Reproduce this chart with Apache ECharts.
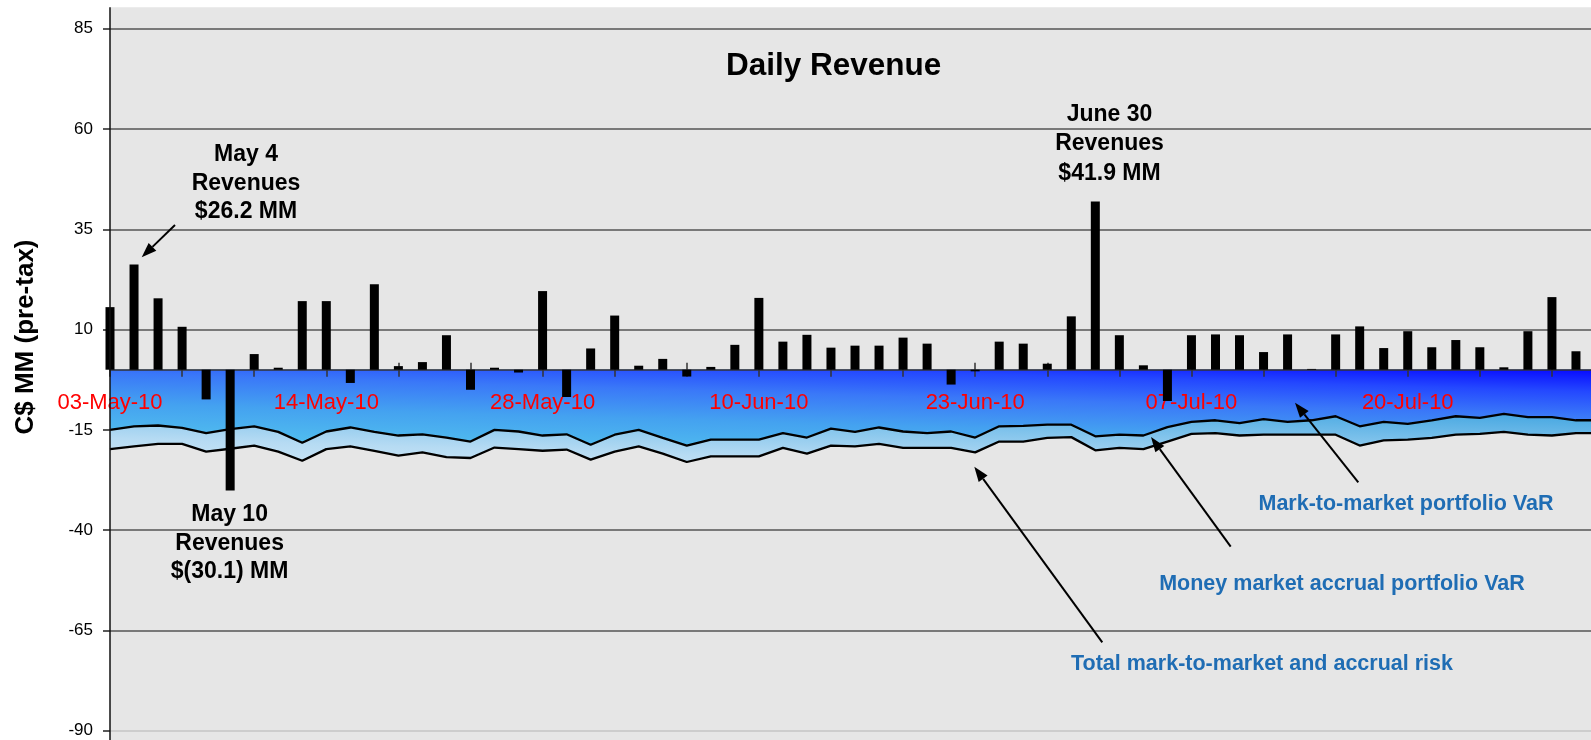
<!DOCTYPE html>
<html>
<head>
<meta charset="utf-8">
<title>Daily Revenue</title>
<script src="https://cdn.jsdelivr.net/npm/echarts@6/dist/echarts.min.js"></script>
<style>
  html, body { margin: 0; padding: 0; background: #fff; }
  #chart { width: 1591px; height: 740px; }
</style>
</head>
<body>
<div id="chart"></div>
<script>
// Business days, 03-May-10 .. 30-Jul-10 (Canadian holidays skipped)
const dates = [
  '03-May-10', '04-May-10', '05-May-10', '06-May-10', '07-May-10',
  '10-May-10', '11-May-10', '12-May-10', '13-May-10', '14-May-10',
  '17-May-10', '18-May-10', '19-May-10', '20-May-10', '21-May-10',
  '25-May-10', '26-May-10', '27-May-10', '28-May-10', '31-May-10',
  '01-Jun-10', '02-Jun-10', '03-Jun-10', '04-Jun-10', '07-Jun-10',
  '08-Jun-10', '09-Jun-10', '10-Jun-10', '11-Jun-10', '14-Jun-10',
  '15-Jun-10', '16-Jun-10', '17-Jun-10', '18-Jun-10', '21-Jun-10',
  '22-Jun-10', '23-Jun-10', '24-Jun-10', '25-Jun-10', '28-Jun-10',
  '29-Jun-10', '30-Jun-10', '02-Jul-10', '05-Jul-10', '06-Jul-10',
  '07-Jul-10', '08-Jul-10', '09-Jul-10', '12-Jul-10', '13-Jul-10',
  '14-Jul-10', '15-Jul-10', '16-Jul-10', '19-Jul-10', '20-Jul-10',
  '21-Jul-10', '22-Jul-10', '23-Jul-10', '26-Jul-10', '27-Jul-10',
  '28-Jul-10', '29-Jul-10', '30-Jul-10'
];

// Daily revenue, C$ MM (last day falls outside the picture)
const revenue = [
  15.6, 26.2, 17.8, 10.7, -7.4, -30.1, 3.9, 0.5, 17.1, 17.1,
  -3.3, 21.3, 0.9, 1.9, 8.6, -5.0, 0.5, -0.7, 19.6, -6.8,
  5.3, 13.5, 1.0, 2.7, -1.7, 0.7, 6.2, 17.9, 7.0, 8.7,
  5.5, 6.0, 6.0, 8.0, 6.5, -3.7, -0.4, 7.0, 6.5, 1.5,
  13.3, 41.9, 8.6, 1.1, -7.8, 8.6, 8.8, 8.6, 4.4, 8.8,
  0.2, 8.8, 10.8, 5.4, 9.6, 5.6, 7.4, 5.6, 0.6, 9.6,
  18.1, 4.6, null
];

// Mark-to-market portfolio VaR
const mtmVar = [
  -15.0, -14.1, -13.9, -14.5, -15.8, -14.8, -14.1, -15.5, -18.2, -15.4,
  -14.4, -15.5, -16.4, -16.1, -16.9, -17.9, -15.0, -15.4, -16.4, -16.1,
  -18.7, -16.2, -15.0, -17.0, -18.9, -17.4, -17.4, -17.4, -15.8, -16.9,
  -14.7, -15.5, -14.4, -15.4, -15.8, -15.4, -16.9, -14.1, -14.0, -13.7,
  -13.7, -16.6, -16.2, -16.4, -14.3, -13.0, -12.6, -13.3, -12.3, -13.0,
  -12.6, -11.6, -14.1, -13.0, -13.5, -12.6, -11.6, -12.0, -11.0, -11.8,
  -11.8, -12.6, -12.6
];

// Total mark-to-market and accrual risk
const totalRisk = [
  -19.8, -19.1, -18.5, -18.5, -20.4, -19.7, -18.9, -20.4, -22.7, -19.8,
  -19.1, -20.2, -21.4, -20.6, -21.8, -22.0, -19.4, -19.8, -20.2, -19.9,
  -22.4, -20.4, -19.1, -20.9, -23.0, -21.6, -21.6, -21.6, -19.5, -20.9,
  -18.9, -19.1, -18.5, -19.5, -19.5, -19.5, -20.6, -17.9, -17.9, -17.0,
  -16.8, -20.1, -19.5, -19.8, -17.9, -16.0, -15.8, -16.4, -16.2, -16.2,
  -16.2, -16.2, -18.9, -17.6, -17.4, -17.0, -16.2, -16.0, -15.5, -16.2,
  -16.4, -15.8, -15.8
];

const FONT = '"Liberation Sans", Arial, sans-serif';
const BLUE_TEXT = '#1f6db4';

// grid geometry: value axis -90..85 spans 28.7 .. 730.8 px
const GRID_TOP = 28.7, GRID_BOTTOM_PX = 730.8, Y_MIN = -90, Y_MAX = 85;
const zeroPx = GRID_TOP + (Y_MAX - 0) * (GRID_BOTTOM_PX - GRID_TOP) / (Y_MAX - Y_MIN);

// arrow from (x1,y1) pointing to (x2,y2)
function arrow(x1, y1, x2, y2) {
  const len = 15, half = 5.5;
  const dx = x2 - x1, dy = y2 - y1;
  const d = Math.sqrt(dx * dx + dy * dy);
  const ux = dx / d, uy = dy / d;
  const bx = x2 - ux * len, by = y2 - uy * len;
  return [
    {
      type: 'line', z: 20, silent: true,
      shape: { x1: x1, y1: y1, x2: bx, y2: by },
      style: { stroke: '#000', lineWidth: 2 }
    },
    {
      type: 'polygon', z: 20, silent: true,
      shape: { points: [[x2, y2], [bx - uy * half, by + ux * half], [bx + uy * half, by - ux * half]] },
      style: { fill: '#000' }
    }
  ];
}

function note(text, x, y, size, color, lineHeight) {
  return {
    type: 'text', z: 20, silent: true, x: x, y: y,
    style: {
      text: text, fill: color, align: 'center', verticalAlign: 'middle',
      font: 'bold ' + size + 'px ' + FONT, lineHeight: lineHeight || size
    }
  };
}

const chart = echarts.init(document.getElementById('chart'));

const option = {
  animation: false,
  backgroundColor: '#fff',
  title: {
    text: 'Daily Revenue',
    left: 721,
    top: 45,
    textStyle: { fontFamily: FONT, fontSize: 31.5, fontWeight: 'bold', color: '#000' }
  },
  grid: {
    left: 110,
    right: -9,
    top: GRID_TOP,
    bottom: 740 - GRID_BOTTOM_PX,
    outerBoundsMode: 'none'
  },
  xAxis: [
    {
      // date axis drawn on the zero line (ticks point down, labels below)
      type: 'category',
      data: dates,
      boundaryGap: false,
      position: 'bottom',
      offset: -(GRID_BOTTOM_PX - zeroPx),
      z: 2,
      axisLine: { show: true, onZero: false, lineStyle: { color: '#333', width: 1.5 } },
      axisTick: { show: true, interval: 2, length: 7, lineStyle: { color: '#333', width: 1.5 } },
      axisLabel: {
        show: true,
        interval: 8,
        margin: 22,
        color: '#f00',
        fontFamily: FONT,
        fontSize: 22,
        hideOverlap: false
      },
      splitLine: { show: false }
    },
    {
      // upper half of the crossing ticks
      type: 'category',
      data: dates,
      boundaryGap: false,
      position: 'top',
      offset: -(zeroPx - GRID_TOP),
      z: 2,
      axisLine: { show: false, onZero: false },
      axisTick: { show: true, interval: 2, length: 7, lineStyle: { color: '#333', width: 1.5 } },
      axisLabel: { show: false },
      splitLine: { show: false }
    }
  ],
  yAxis: {
    type: 'value',
    min: Y_MIN,
    max: Y_MAX,
    interval: 25,
    z: 0,
    axisLine: { show: false },
    axisTick: { show: true, length: 7, lineStyle: { color: '#222', width: 1.5 } },
    axisLabel: { margin: 17, color: '#000', fontFamily: FONT, fontSize: 17 },
    splitLine: {
      show: true,
      lineStyle: { color: ['#c4c4c4', '#555', '#555', '#555', '#555', '#555', '#555', '#555'], width: 1.5 }
    }
  },
  series: [
    {
      name: 'Total mark-to-market and accrual risk',
      type: 'line',
      data: totalRisk,
      z: 1,
      symbol: 'none',
      lineStyle: { color: '#000', width: 2.3 },
      areaStyle: {
        opacity: 1,
        color: {
          type: 'linear', global: true, x: 110, y: 465, x2: 112.6, y2: 375,
          colorStops: [
            { offset: 0, color: '#cde7f7' },
            { offset: 0.3, color: '#b6dbf3' },
            { offset: 0.65, color: '#82c4ec' },
            { offset: 1, color: '#4aa9e2' }
          ]
        }
      }
    },
    {
      name: 'Mark-to-market portfolio VaR',
      type: 'line',
      data: mtmVar,
      z: 1,
      symbol: 'none',
      lineStyle: { color: '#000', width: 2.3 },
      areaStyle: {
        opacity: 1,
        color: {
          type: 'linear', global: true, x: 110, y: 440, x2: 113.2, y2: 329,
          colorStops: [
            { offset: 0, color: '#52c0ee' },
            { offset: 0.33, color: '#44a2f0' },
            { offset: 0.6, color: '#3a78f8' },
            { offset: 0.82, color: '#2448ff' },
            { offset: 1, color: '#0a10ff' }
          ]
        }
      }
    },
    {
      name: 'Daily Revenue',
      type: 'bar',
      data: revenue,
      z: 3,
      barWidth: 9,
      itemStyle: { color: '#000' }
    }
  ],
  graphic: [
    {
      type: 'rect', z: -10, silent: true,
      shape: { x: 110, y: 7.3, width: 1481, height: 733 },
      style: { fill: '#e6e6e6' }
    },
    {
      type: 'line', z: 5, silent: true,
      shape: { x1: 110, y1: 7.3, x2: 110, y2: 740 },
      style: { stroke: '#111', lineWidth: 1.5 }
    },
    {
      type: 'text', z: 20, silent: true, x: 26, y: 337, rotation: Math.PI / 2,
      style: {
        text: 'C$ MM (pre-tax)', fill: '#000', align: 'center', verticalAlign: 'middle',
        font: 'bold 26px ' + FONT
      }
    },
    note('May 4\nRevenues\n$26.2 MM', 246, 183.5, 23, '#000', 28.5),
    note('May 10\nRevenues\n$(30.1) MM', 229.6, 543.5, 23, '#000', 28.5),
    note('June 30\nRevenues\n$41.9 MM', 1109.5, 144, 23, '#000', 29.5),
    note('Mark-to-market portfolio VaR', 1406, 504, 21.5, BLUE_TEXT),
    note('Money market accrual portfolio VaR', 1342, 584, 21.5, BLUE_TEXT),
    note('Total mark-to-market and accrual risk', 1262, 664.5, 21.5, BLUE_TEXT)
  ]
    .concat(arrow(175, 225, 141.7, 257.3))
    .concat(arrow(1102.3, 642.3, 974.3, 466.7))
    .concat(arrow(1230.7, 546.7, 1151, 437))
    .concat(arrow(1358.3, 482.3, 1295, 402.7))
};

chart.setOption(option);
</script>
</body>
</html>
